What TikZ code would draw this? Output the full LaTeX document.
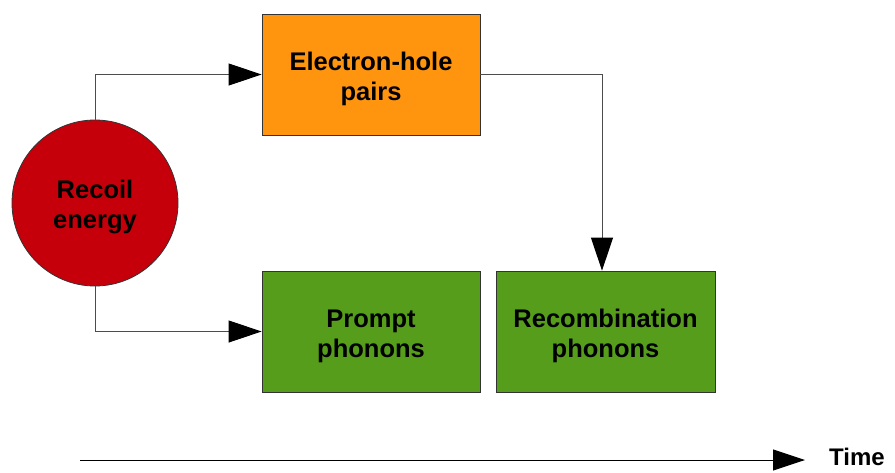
\documentclass[tikz,border=0pt]{standalone}
\usepackage{fontspec}
\setmainfont{Liberation Sans}
\usetikzlibrary{arrows.meta,calc}
\definecolor{boxorange}{HTML}{FF950E}
\definecolor{boxgreen}{HTML}{579D1C}
\definecolor{circred}{HTML}{C5000B}
\newcommand{\upstrut}{\rule{0pt}{27pt}}
\begin{document}
\begin{tikzpicture}[x=1pt,y=-1pt,
  lbl/.style={font=\fontsize{25.5}{30}\selectfont\bfseries, align=center, text=black},
  blk/.style={lbl, draw=black!80, line width=0.8pt, minimum width=218pt, minimum height=121pt, inner sep=0pt},
  conn/.style={draw=black!70, line width=1pt, -{Triangle[length=33pt,width=22pt,black]}}]
\useasboundingbox (0,0) rectangle (895,472);
\node[lbl, circle, fill=circred, draw=black!80, line width=0.8pt, minimum size=166pt, inner sep=0pt] (recoil) at (95,203) {\upstrut Recoil\\energy};
\node[blk, fill=boxorange] (eh) at (371,74.5) {\upstrut Electron-hole\\pairs};
\node[blk, fill=boxgreen] (prompt) at (371,331.5) {\upstrut Prompt\\phonons};
\node[blk, fill=boxgreen, minimum width=219pt] (recomb) at (605.5,331.5) {\upstrut Recombination\\phonons};
\draw[conn] (recoil.north) |- (eh.west);
\draw[conn] (recoil.south) |- (prompt.west);
\draw[conn] (eh.east) -| ($(recomb.north)+(-3.5,0)$);
\coordinate (t0) at (80,460);
\coordinate (t1) at (805,460);
\node[font=\fontsize{24}{30}\selectfont\bfseries, anchor=west, inner sep=0pt] (time) at (829,457) {Time};
\draw[draw=black, line width=1pt, -{Triangle[length=32pt,width=21pt]}] (t0) -- (t1);
\end{tikzpicture}
\end{document}
